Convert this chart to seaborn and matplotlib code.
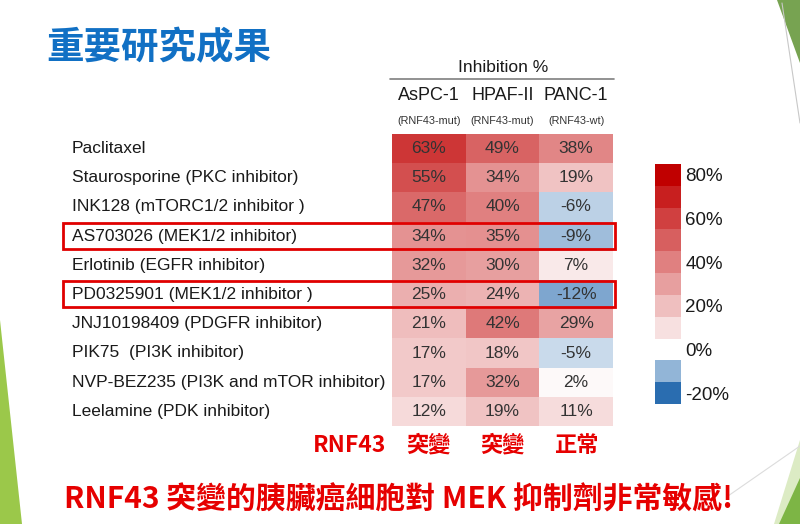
import matplotlib
matplotlib.use('Agg')
import matplotlib.pyplot as plt
import matplotlib.transforms as mtransforms
from matplotlib.colors import LinearSegmentedColormap
from matplotlib.patches import Rectangle, Polygon
from matplotlib.lines import Line2D
import numpy as np
import pandas as pd
import seaborn as sns

# ====================================
# DATA
# ====================================

drugs = [
    'Paclitaxel',
    'Staurosporine (PKC inhibitor)',
    'INK128 (mTORC1/2 inhibitor )',
    'AS703026 (MEK1/2 inhibitor)',
    'Erlotinib (EGFR inhibitor)',
    'PD0325901 (MEK1/2 inhibitor )',
    'JNJ10198409 (PDGFR inhibitor)',
    'PIK75  (PI3K inhibitor)',
    'NVP-BEZ235 (PI3K and mTOR inhibitor)',
    'Leelamine (PDK inhibitor)',
]

cell_lines = ['AsPC-1', 'HPAF-II', 'PANC-1']
cell_status = ['(RNF43-mut)', '(RNF43-mut)', '(RNF43-wt)']
status_cn = ['突變', '突變', '正常']

aspc1 = [63, 55, 47, 34, 32, 25, 21, 17, 17, 12]
hpaf2 = [49, 34, 40, 35, 30, 24, 42, 18, 32, 19]
panc1 = [38, 19, -6, -9, 7, -12, 29, -5, 2, 11]

highlight = ['AS703026 (MEK1/2 inhibitor)', 'PD0325901 (MEK1/2 inhibitor )']

legend_levels = [80, 70, 60, 50, 40, 30, 20, 10, 0, -10, -20]
legend_ticks = [80, 60, 40, 20, 0, -20]

# ====================================
# STYLE
# ====================================

sns.set_theme(style='white')
plt.rcParams['font.family'] = ['Liberation Sans', 'Noto Sans CJK TC', 'DejaVu Sans']

W, H = 800, 524

def fx(px):
    return px / W

def fy(py):
    return 1 - py / H

cmap = LinearSegmentedColormap.from_list(
    'inh', [(0.0, '#2a6db0'), (0.2, '#ffffff'), (1.0, '#c00000')])
VMIN, VMAX = -20, 80

df = pd.DataFrame({'AsPC-1': aspc1, 'HPAF-II': hpaf2, 'PANC-1': panc1}, index=drugs)
annot = df.map(lambda v: f'{v}%')

fig = plt.figure(figsize=(8, 5.24), dpi=100)

# ====================================
# BACKGROUND DECORATION (slide template)
# ====================================

deco = [
    ([(0, 320), (0, 524), (22, 524)], '#9bc84a'),
    ([(777, 0), (800, 0), (800, 63)], '#77a351'),
    ([(800, 440), (800, 524), (774, 524)], '#dcebc4'),
    ([(800, 478), (800, 524), (779, 524)], '#7db545'),
]
for pts, col in deco:
    fig.patches.append(Polygon([(fx(x), fy(y)) for x, y in pts], closed=True,
                               transform=fig.transFigure, facecolor=col,
                               edgecolor='none', zorder=0))
fig.lines.append(Line2D([fx(782), fx(800)], [fy(3), fy(123)], transform=fig.transFigure,
                        color='#c8c8c8', lw=0.8))
fig.lines.append(Line2D([fx(728), fx(800)], [fy(496), fy(446)], transform=fig.transFigure,
                        color='#dcdcdc', lw=0.8))

# ====================================
# HEATMAP
# ====================================

ax = fig.add_axes([fx(392), fy(426), fx(613) - fx(392), (426 - 134) / H])

sns.heatmap(
    df,
    ax=ax,
    cmap=cmap,
    vmin=VMIN,
    vmax=VMAX,
    annot=annot,
    fmt='',
    cbar=False,
    xticklabels=False,
    yticklabels=drugs,
    annot_kws={'fontsize': 12.5, 'color': '#333333'}
)

ax.set_xlabel('')
ax.set_ylabel('')
ax.tick_params(axis='y', length=0, pad=(392 - 72) * 0.72, labelsize=12.5,
               labelcolor='#1a1a1a')
for lab in ax.get_yticklabels():
    lab.set_ha('left')
    lab.set_rotation(0)

# column headers
tr = mtransforms.blended_transform_factory(ax.transData, fig.transFigure)
for i, (name, st, cn) in enumerate(zip(cell_lines, cell_status, status_cn)):
    ax.text(i + 0.5, fy(95), name, transform=tr, ha='center', va='center',
            fontsize=13, color='#1a1a1a')
    ax.text(i + 0.5, fy(121), st, transform=tr, ha='center', va='center',
            fontsize=7.8, color='#333333')
    ax.text(i + 0.5, fy(445), cn, transform=tr, ha='center', va='center',
            fontsize=16, color='#e60000', fontweight='bold',
            family=['Noto Sans CJK TC'])

fig.text(fx(386), fy(445), 'RNF43', ha='right', va='center', fontsize=16.5,
         color='#e60000', fontweight='bold', family=['Noto Sans CJK TC'])

fig.text(fx(503), fy(68), 'Inhibition %', ha='center', va='center',
         fontsize=12.5, color='#1a1a1a')
fig.lines.append(Line2D([fx(390), fx(614)], [fy(79), fy(79)], transform=fig.transFigure,
                        color='#7f7f7f', lw=1.2))

# highlight boxes around MEK inhibitors
trb = mtransforms.blended_transform_factory(ax.transAxes, ax.transData)
x0 = (63 - 392) / 221
x1 = (615 - 392) / 221
for name in highlight:
    r = drugs.index(name)
    ax.add_patch(Rectangle((x0, r + 0.05), x1 - x0, 0.88, transform=trb,
                           fill=False, edgecolor='#e00000', lw=2, clip_on=False,
                           zorder=5))

# ====================================
# LEGEND (discrete colour scale)
# ====================================

cax = fig.add_axes([fx(655), fy(404), fx(681) - fx(655), (404 - 164) / H])
leg = pd.DataFrame({'v': legend_levels}, index=legend_levels)
sns.heatmap(leg, ax=cax, cmap=cmap, vmin=VMIN, vmax=VMAX, cbar=False,
            xticklabels=False, yticklabels=False)
cax.set_xlabel('')
cax.set_ylabel('')
cax.yaxis.tick_right()
cax.set_yticks([legend_levels.index(t) + 0.5 for t in legend_ticks])
cax.set_yticklabels([f'{t}%' for t in legend_ticks], fontsize=13.5, color='#1a1a1a')
cax.tick_params(axis='y', length=0, pad=3)

# ====================================
# TITLES
# ====================================

fig.text(fx(46), fy(48), '重要研究成果', ha='left', va='center', fontsize=27,
         color='#1170c4', fontweight='bold', family=['Noto Sans CJK TC'])

fig.text(fx(399), fy(500), 'RNF43 突變的胰臟癌細胞對 MEK 抑制劑非常敏感!',
         ha='center', va='center', fontsize=21.5, color='#e60000',
         fontweight='bold', family=['Noto Sans CJK TC'])

fig.savefig('out.png', dpi=100)
plt.close()
